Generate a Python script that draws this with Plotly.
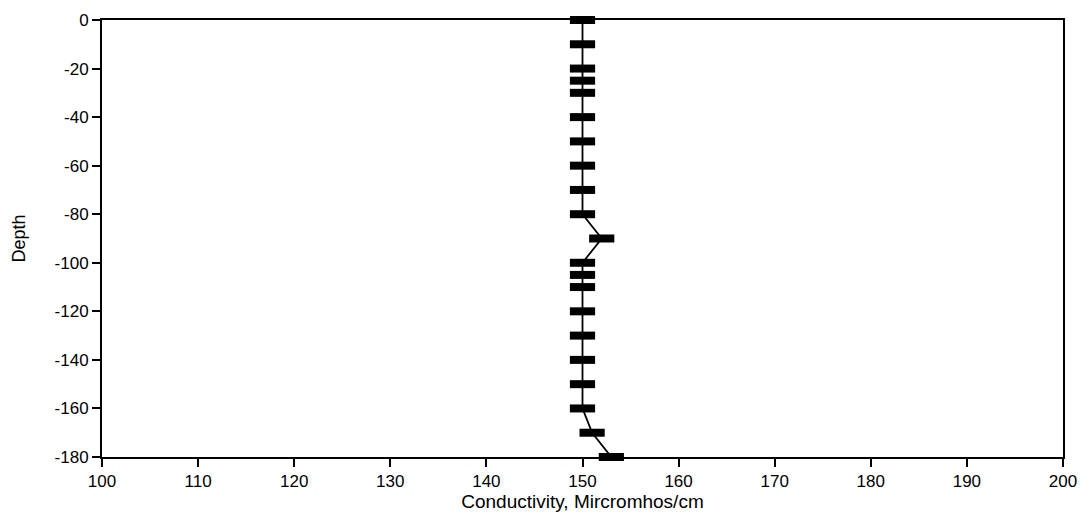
import plotly.graph_objects as go

depth = [0, -10, -20, -25, -30, -40, -50, -60, -70, -80, -90, -100, -105, -110,
         -120, -130, -140, -150, -160, -170, -180]
conductivity = [150, 150, 150, 150, 150, 150, 150, 150, 150, 150, 152, 150, 150, 150,
                150, 150, 150, 150, 150, 151, 153]

x_ticks = [100, 110, 120, 130, 140, 150, 160, 170, 180, 190, 200]
y_ticks = [0, -20, -40, -60, -80, -100, -120, -140, -160, -180]

fig = go.Figure()
fig.add_trace(go.Scatter(
    x=conductivity, y=depth, mode="lines+markers",
    line=dict(color="black", width=1.8),
    marker=dict(symbol="line-ew-open", size=18, color="black",
                line=dict(color="black", width=8)),
    cliponaxis=False, showlegend=False,
))

fam = "Liberation Sans, Arial, sans-serif"
font = dict(family=fam, size=17, color="black")
axis_common = dict(showgrid=False, zeroline=False, showline=True, linecolor="black",
                   linewidth=2, mirror=True, ticks="outside", ticklen=8, tickwidth=1.5,
                   tickcolor="black", tickfont=font, automargin=False)

fig.update_xaxes(range=[100, 200], tickvals=x_ticks, ticktext=[str(v) for v in x_ticks],
                 title=dict(text="Conductivity, Mircromhos/cm", font=dict(family=fam, size=19, color="black"), standoff=4),
                 **axis_common)
fig.update_yaxes(range=[-180, 0], tickvals=y_ticks, ticktext=[str(v) for v in y_ticks],
                 title=dict(text="Depth", font=dict(family=fam, size=18, color="black"), standoff=24),
                 **axis_common)

# page body has an 8px margin, so the figure is shifted by 8px; compensate
fig.update_layout(width=1082, height=507, plot_bgcolor="white", paper_bgcolor="white",
                  margin=dict(l=94, r=27, t=12, b=58))
fig.write_html("out.html")
